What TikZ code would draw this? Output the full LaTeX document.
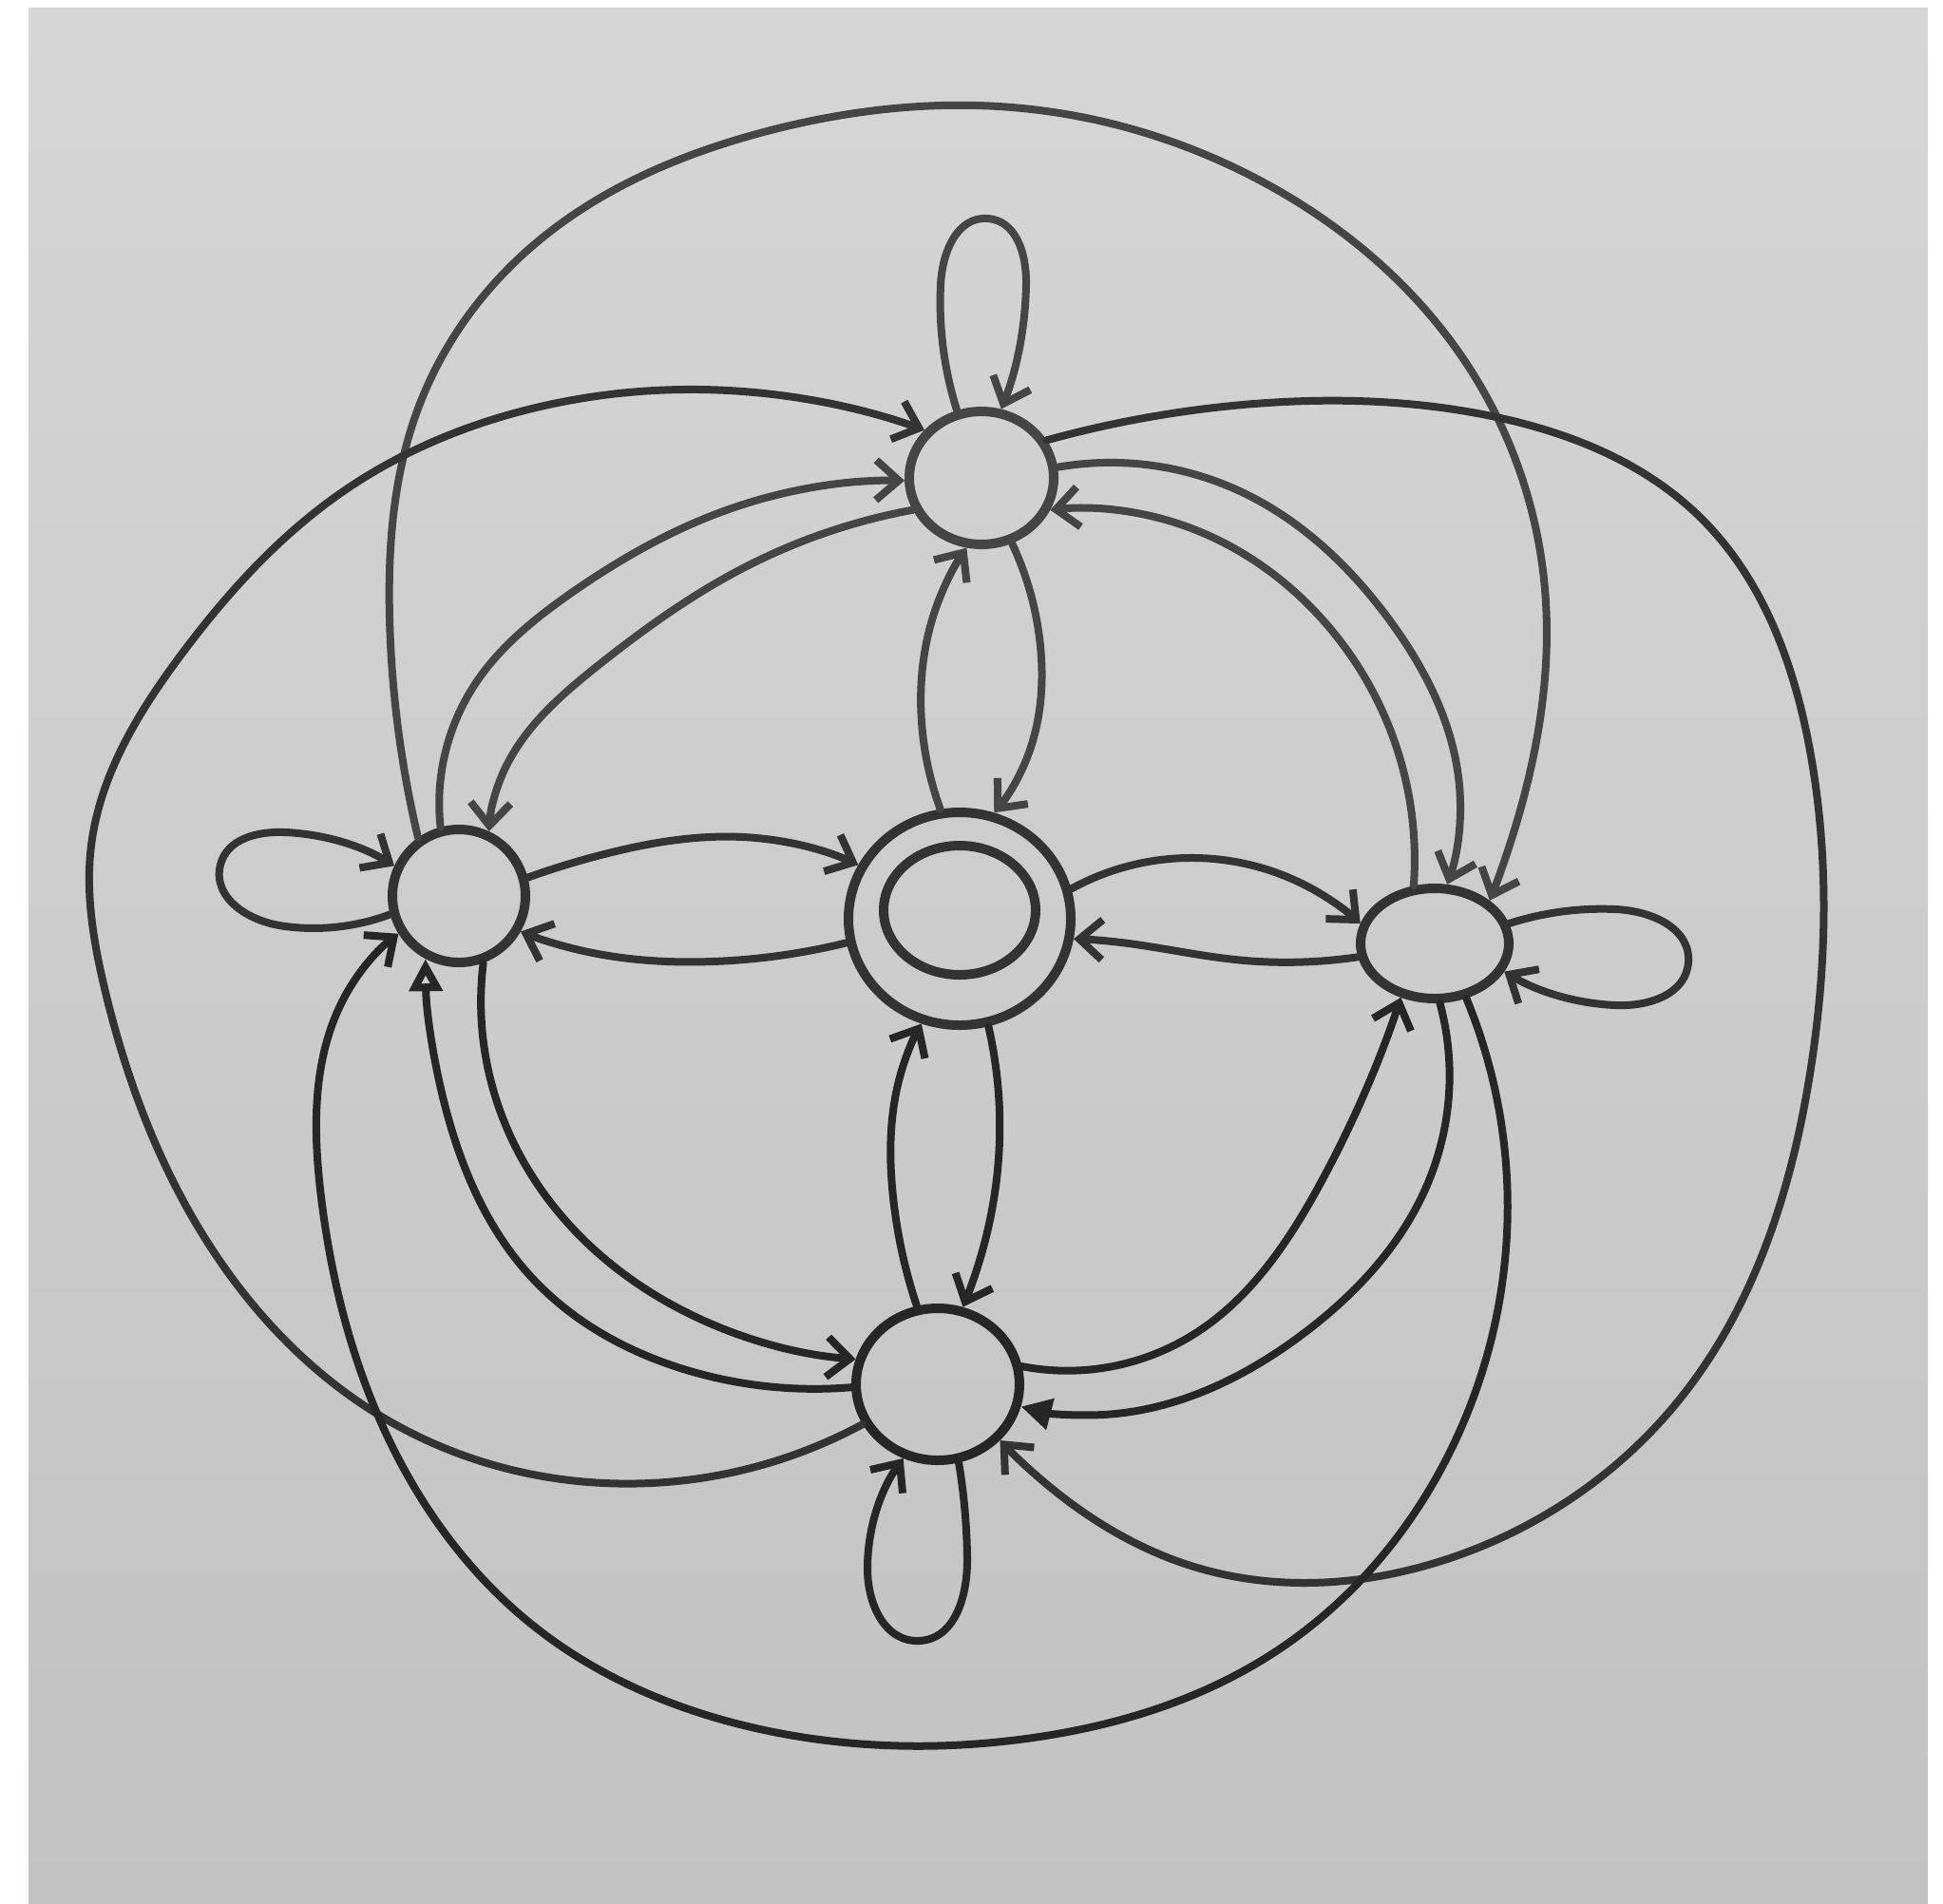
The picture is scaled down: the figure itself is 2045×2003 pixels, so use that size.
\documentclass[tikz,border=0pt]{standalone}
\usetikzlibrary{shapes.geometric,arrows.meta,hobby}
\definecolor{ink}{HTML}{333333}
\definecolor{inkup}{HTML}{454545}
\definecolor{inkdn}{HTML}{262626}
\definecolor{papertop}{HTML}{D6D6D6}
\definecolor{paperbot}{HTML}{C2C2C2}
\tikzset{
  nd/.style={ellipse, draw=ink, line width=10pt, inner sep=0pt},
  lnk/.style={draw=ink, line width=8pt, line cap=round, line join=round, use Hobby shortcut, -{Straight Barb[length=24pt,width=42pt]}},
  tri/.style={draw=inkdn, line width=8pt, line cap=round, line join=round, use Hobby shortcut, -{Triangle[length=32pt,width=32pt]}},
  otri/.style={draw=inkdn, line width=8pt, line cap=round, line join=round, use Hobby shortcut, -{Triangle[open,length=34pt,width=34pt]}},
  up/.style={draw=inkup},
  dn/.style={draw=inkdn}
}
\begin{document}
\begin{tikzpicture}[x=1pt,y=-1pt]
\useasboundingbox (0,0) rectangle (2045,2003);
\fill[white] (0,0) rectangle (2045,2003);
\shade[top color=papertop, bottom color=paperbot] (30,8) rectangle (2029,2003);
% nodes
\node[nd, draw=inkup, minimum width=152pt, minimum height=140pt] (T) at (1033,503) {};
\node[nd, minimum width=140pt, minimum height=140pt] (L) at (483,943) {};
\node[nd, minimum width=234pt, minimum height=224pt] (C) at (1010,967) {};
\node[nd, minimum width=160pt, minimum height=136pt] (Cin) at (1010,958) {};
\node[nd, minimum width=156pt, minimum height=116pt] (R) at (1510,993) {};
\node[nd, draw=inkdn, minimum width=172pt, minimum height=160pt] (B) at (987,1457) {};
% big outer arcs
\draw[lnk, up] (L.125) .. (410,650) .. (440,430) .. (565,255) .. (800,140) .. (1065,113) .. (1330,192) .. (1545,385) .. (1626,620) .. (1595,870) .. (R.38);
\draw[lnk] (B.208) .. (620,1560) .. (400,1490) .. (220,1310) .. (110,1040) .. (96,890) .. (190,690) .. (360,518) .. (560,430) .. (782,412) .. (T.140);
\draw[lnk] (T.30) .. (1320,425) .. (1570,438) .. (1790,545) .. (1905,790) .. (1905,1130) .. (1770,1470) .. (1520,1642) .. (1260,1650) .. (1105,1565) .. (B.318);
\draw[lnk, dn] (R.300) .. (1585,1225) .. (1530,1520) .. (1340,1740) .. (1080,1830) .. (800,1820) .. (560,1710) .. (400,1495) .. (338,1260) .. (365,1045) .. (L.212);
% T - L
\draw[lnk, up] (L.105) .. (500,720) .. (600,625) .. (770,535) .. (T.182);
\draw[lnk, up] (T.205) .. (782,598) .. (630,700) .. (531,810) .. (L.65);
% T - R
\draw[lnk, up] (T.8) .. (1305,517) .. (1462,652) .. (1536,827) .. (R.78);
\draw[lnk, up] (R.110) .. (1474,800) .. (1390,650) .. (1230,548) .. (T.335);
% T - C
\draw[lnk, up] (C.100) .. (970,760) .. (985,640) .. (T.258);
\draw[lnk, up] (T.295) .. (1095,680) .. (1080,800) .. (C.72);
% L - C
\draw[lnk] (L.15) .. (640,898) .. (782,881) .. (C.152);
\draw[lnk] (C.192) .. (750,1012) .. (610,1000) .. (L.330);
% C - R
\draw[lnk] (C.15) .. (1250,903) .. (1380,935) .. (R.165);
\draw[lnk] (R.190) .. (1300,1010) .. (1180,992) .. (C.350);
% C - B
\draw[lnk, dn] (B.105) .. (940,1260) .. (948,1130) .. (C.250);
\draw[lnk, dn] (C.285) .. (1052,1200) .. (1030,1330) .. (B.72);
% L - B
\draw[lnk, dn] (L.290) .. (520,1150) .. (600,1290) .. (730,1385) .. (B.163);
\draw[otri] (B.182) .. (726,1443) .. (560,1345) .. (470,1170) .. (L.242);
% B - R
\draw[lnk, dn] (B.12) .. (1257,1404) .. (1390,1245) .. (R.238);
\draw[tri] (R.275) .. (1505,1240) .. (1370,1405) .. (1161,1489) .. (B.345);
% loops
\draw[lnk, up] (T.110) .. (990,300) .. (1040,230) .. (1080,300) .. (T.74);
\draw[lnk] (L.195) .. (300,975) .. (232,910) .. (300,876) .. (L.155);
\draw[lnk] (R.15) .. (1700,957) .. (1777,1013) .. (1700,1058) .. (R.338);
\draw[lnk, dn] (B.285) .. (1018,1640) .. (967,1727) .. (913,1650) .. (B.245);
\end{tikzpicture}
\end{document}
